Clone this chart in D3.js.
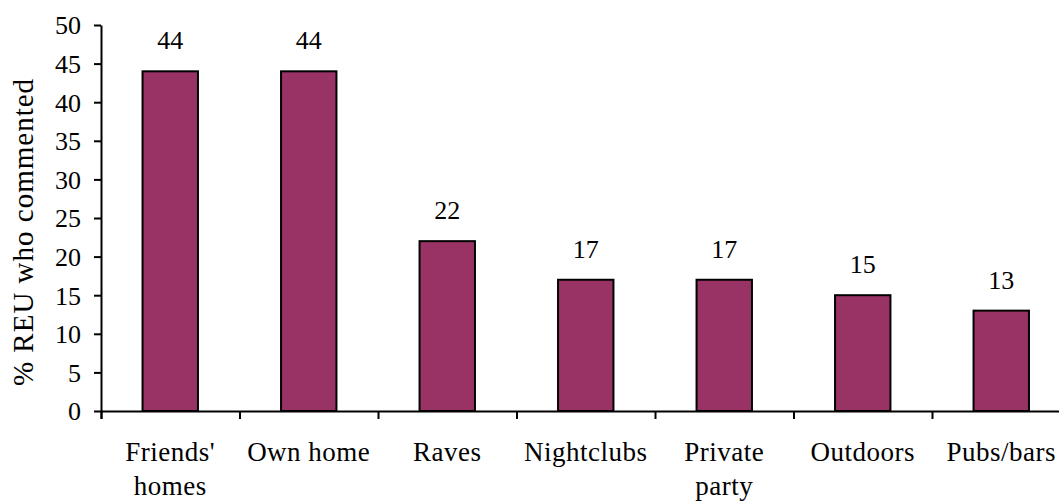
<!DOCTYPE html>
<html><head><meta charset="utf-8">
<script src="https://cdn.jsdelivr.net/npm/d3@7"></script>
<style>body{margin:0;background:#fff;overflow:hidden}</style>
</head><body><svg id="c" width="1059" height="501"></svg>
<script>
const categories = [["Friends'","homes"],["Own home"],["Raves"],["Nightclubs"],["Private","party"],["Outdoors"],["Pubs/bars"]];
const values = [44,44,22,17,17,15,13];
const yTicks = [0,5,10,15,20,25,30,35,40,45,50];
const yTitle = "% REU who commented";

const svg = d3.select("#c");
const font = "'Liberation Serif', 'Times New Roman', serif";
const left = 101, step = 138.5;
const x = d3.scaleBand().domain(d3.range(categories.length)).range([left, left + step*categories.length]).paddingInner(0.6).paddingOuter(0.3);
const y = d3.scaleLinear().domain([0,50]).range([411,25]);

svg.selectAll("rect.bar").data(values).join("rect")
  .attr("x",(d,i)=>x(i)).attr("width",x.bandwidth())
  .attr("y",d=>y(d)).attr("height",d=>y(0)-y(d))
  .attr("fill","#993366").attr("stroke","#000").attr("stroke-width",2);

svg.selectAll("text.val").data(values).join("text")
  .attr("x",(d,i)=>x(i)+x.bandwidth()/2).attr("y",d=>y(d)-22)
  .attr("text-anchor","middle").attr("font-family",font).attr("font-size",26).attr("fill","#000").text(d=>d);

const ya = svg.append("g").attr("transform",`translate(${left},0)`)
  .call(d3.axisLeft(y).tickValues(yTicks).tickSize(7).tickSizeOuter(0));
ya.select(".domain").attr("stroke","#000").attr("stroke-width",2);
ya.selectAll(".tick line").attr("stroke","#000").attr("stroke-width",2);
ya.selectAll(".tick text").attr("font-family",font).attr("font-size",26).attr("fill","#000").attr("x",-20).attr("dy","0.34em");

const xb = d3.scaleLinear().domain([0,categories.length]).range([left,left+step*categories.length]);
const xa = svg.append("g").attr("transform",`translate(0,${y(0)})`)
  .call(d3.axisBottom(xb).tickValues(d3.range(categories.length+1)).tickSize(8).tickFormat(""));
xa.select(".domain").attr("stroke","#000").attr("stroke-width",2);
xa.selectAll(".tick line").attr("stroke","#000").attr("stroke-width",2);

const lab = svg.selectAll("text.cat").data(categories).join("text")
  .attr("text-anchor","middle").attr("font-family",font).attr("font-size",27).attr("letter-spacing",0.5).attr("fill","#000");
lab.each(function(d,i){
  const t = d3.select(this);
  d.forEach((s,j)=>t.append("tspan").attr("x",x(i)+x.bandwidth()/2).attr("y",461+j*34).text(s));
});

svg.append("text").attr("transform","translate(33,232) rotate(-90)")
  .attr("text-anchor","middle").attr("font-family",font).attr("font-size",29).attr("letter-spacing",1).attr("fill","#000").text(yTitle);
</script></body></html>
